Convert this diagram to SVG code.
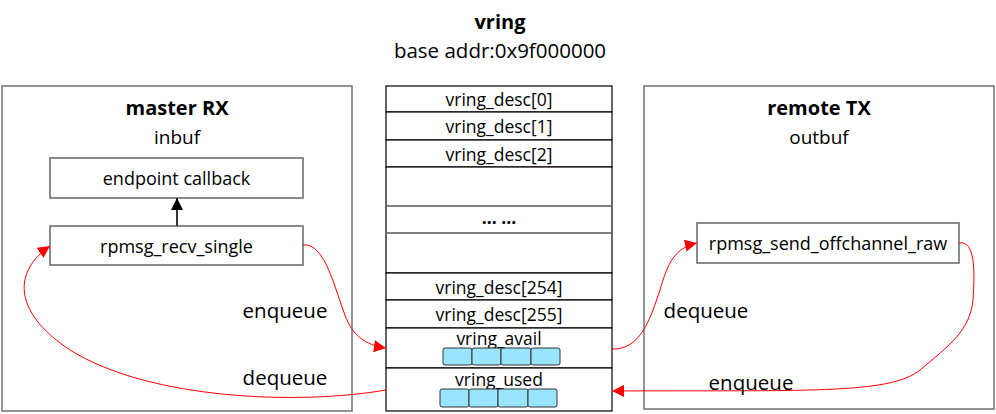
<svg xmlns="http://www.w3.org/2000/svg" width="996" height="414" viewBox="0 0 996 414">
<style>
text{font-family:"Open Sans","Liberation Sans",sans-serif;fill:#000;text-anchor:middle;dominant-baseline:central}
.t{font-size:17.5px}
.b{font-size:18px}
.h{font-size:20px;font-weight:bold}
.s{font-size:19px}
.a{font-size:20.5px}
.lab{font-size:20.5px}
.outer{fill:#fff;stroke:#707070;stroke-width:1.5}
.box{fill:#fff;stroke:#666;stroke-width:1.5}
.row{fill:#fff;stroke:#000;stroke-width:1.2}
.gl{stroke:#808080;stroke-width:2}
.cell{fill:#99e5ff;stroke:#333;stroke-width:1}
.red{fill:none;stroke:#ff0000;stroke-width:1}
</style>
<defs>
<marker id="ra" viewBox="0 0 10 10" refX="10" refY="5" markerWidth="18" markerHeight="12" markerUnits="userSpaceOnUse" orient="auto">
<path d="M0,0L10,5L0,10z" fill="#ff0000"/>
</marker>
<marker id="ba" viewBox="0 0 10 10" refX="10" refY="5" markerWidth="14" markerHeight="12" markerUnits="userSpaceOnUse" orient="auto">
<path d="M0,0L10,5L0,10z" fill="#000"/>
</marker>
</defs>
<rect width="996" height="414" fill="#fff"/>
<g id="title">
<text x="500" y="21" class="h">vring</text>
<text x="500" y="50" class="a">base addr:0x9f000000</text>
</g>
<g id="master">
<rect x="2" y="86" width="350" height="325" class="outer"/>
<text x="177" y="107" class="h">master RX</text>
<text x="177" y="137" class="s">inbuf</text>
</g>
<g id="endpoint_callback">
<rect x="50" y="158" width="253" height="40" class="box"/>
<text x="176.5" y="178" class="b">endpoint callback</text>
</g>
<g id="rpmsg_recv_single">
<rect x="50" y="226" width="253" height="39" class="box"/>
<text x="176.5" y="245.5" class="b">rpmsg_recv_single</text>
</g>
<g id="remote">
<rect x="644" y="86" width="350" height="323" class="outer"/>
<text x="819" y="107" class="h">remote TX</text>
<text x="819" y="137" class="s">outbuf</text>
</g>
<g id="rpmsg_send_offchannel_raw">
<rect x="697" y="223" width="262" height="40" class="box"/>
<text x="828" y="243" class="b">rpmsg_send_offchannel_raw</text>
</g>
<g id="vring">
<rect x="386" y="86" width="226" height="26" class="row"/>
<text x="499" y="99" class="t">vring_desc[0]</text>
<rect x="386" y="112" width="226" height="28" class="row"/>
<text x="499" y="126" class="t">vring_desc[1]</text>
<rect x="386" y="140" width="226" height="27" class="row"/>
<text x="499" y="153.5" class="t">vring_desc[2]</text>
<rect x="386" y="167" width="226" height="106" class="row"/>
<line x1="387" y1="206" x2="611" y2="206" class="gl"/>
<line x1="387" y1="233" x2="611" y2="233" class="gl"/>
<text x="499" y="217" class="t" font-weight="bold">… …</text>
<rect x="386" y="273" width="226" height="27" class="row"/>
<text x="499" y="286.5" class="t">vring_desc[254]</text>
<rect x="386" y="300" width="226" height="28" class="row"/>
<text x="499" y="314" class="t">vring_desc[255]</text>
</g>
<g id="vring_avail">
<rect x="386" y="328" width="226" height="40" class="row"/>
<text x="499" y="338" class="t">vring_avail</text>
<rect x="443" y="348" width="29" height="17" rx="2" class="cell"/>
<rect x="472" y="348" width="29" height="17" rx="2" class="cell"/>
<rect x="501" y="348" width="30" height="17" rx="2" class="cell"/>
<rect x="531" y="348" width="29" height="17" rx="2" class="cell"/>
</g>
<g id="vring_used">
<rect x="386" y="368" width="226" height="43" class="row"/>
<text x="499" y="379" class="t">vring_used</text>
<rect x="440" y="389" width="29" height="18" rx="2" class="cell"/>
<rect x="469" y="389" width="29" height="18" rx="2" class="cell"/>
<rect x="498" y="389" width="30" height="18" rx="2" class="cell"/>
<rect x="528" y="389" width="29" height="18" rx="2" class="cell"/>
</g>
<g id="connectors">
<path d="M177,226 L177,198" stroke="#333" stroke-width="2" fill="none" marker-end="url(#ba)"/>
<path d="M303,245 C325,242 335,290 345,315 C352,335 365,345 386,348" class="red" marker-end="url(#ra)"/>
<path d="M386,390 C300,405 150,400 70,350 C10,310 15,270 50,246" class="red" marker-end="url(#ra)"/>
<path d="M612,349 C640,350 650,320 660,290 C668,262 675,248 697,243" class="red" marker-end="url(#ra)"/>
<path d="M959,243 C975,240 975,270 973,300 C970,330 950,345 920,370 C890,395 800,390 612,391" class="red" marker-end="url(#ra)"/>
</g>
<g id="labels">
<text x="285" y="310" class="lab">enqueue</text>
<text x="285" y="377" class="lab">dequeue</text>
<text x="706" y="310" class="lab">dequeue</text>
<text x="751" y="382" class="lab">enqueue</text>
</g>
</svg>
